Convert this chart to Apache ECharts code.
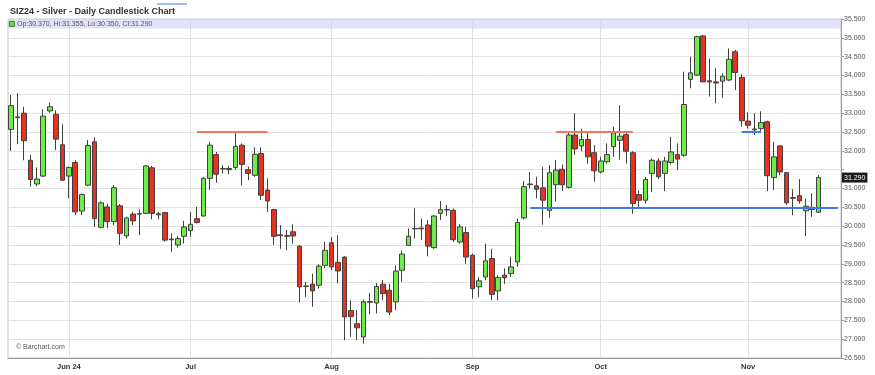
<!DOCTYPE html>
<html><head><meta charset="utf-8">
<script src="https://cdn.jsdelivr.net/npm/echarts/dist/echarts.min.js"></script>
<style>html,body{margin:0;padding:0;background:#fff}#c{width:875px;height:375px}</style>
</head><body><div id="c"></div>
<script>
// ---- data ----
const dates = [
 '2024-05-20','2024-05-21','2024-05-22','2024-05-23','2024-05-24','2024-05-28','2024-05-29','2024-05-30','2024-05-31',
 '2024-06-03','2024-06-04','2024-06-05','2024-06-06','2024-06-07','2024-06-10','2024-06-11','2024-06-12','2024-06-13','2024-06-14',
 '2024-06-17','2024-06-18','2024-06-20','2024-06-21','2024-06-24','2024-06-25','2024-06-26','2024-06-27','2024-06-28',
 '2024-07-01','2024-07-02','2024-07-03','2024-07-05','2024-07-08','2024-07-09','2024-07-10','2024-07-11','2024-07-12',
 '2024-07-15','2024-07-16','2024-07-17','2024-07-18','2024-07-19','2024-07-22','2024-07-23','2024-07-24','2024-07-25','2024-07-26',
 '2024-07-29','2024-07-30','2024-07-31',
 '2024-08-01','2024-08-02','2024-08-05','2024-08-06','2024-08-07','2024-08-08','2024-08-09','2024-08-12','2024-08-13','2024-08-14',
 '2024-08-15','2024-08-16','2024-08-19','2024-08-20','2024-08-21','2024-08-22','2024-08-23','2024-08-26','2024-08-27','2024-08-28',
 '2024-08-29','2024-08-30',
 '2024-09-03','2024-09-04','2024-09-05','2024-09-06','2024-09-09','2024-09-10','2024-09-11','2024-09-12','2024-09-13',
 '2024-09-16','2024-09-17','2024-09-18','2024-09-19','2024-09-20','2024-09-23','2024-09-24','2024-09-25','2024-09-26','2024-09-27','2024-09-30',
 '2024-10-01','2024-10-02','2024-10-03','2024-10-04','2024-10-07','2024-10-08','2024-10-09','2024-10-10','2024-10-11',
 '2024-10-14','2024-10-15','2024-10-16','2024-10-17','2024-10-18','2024-10-21','2024-10-22','2024-10-23','2024-10-24','2024-10-25',
 '2024-10-28','2024-10-29','2024-10-30','2024-10-31',
 '2024-11-01','2024-11-04','2024-11-05','2024-11-06','2024-11-07','2024-11-08','2024-11-11','2024-11-12','2024-11-13','2024-11-14','2024-11-15','2024-11-18'
];
const padDates = ['2024-11-19','2024-11-20','2024-11-21'];

const opens = [32.57,32.90,33.00,31.75,31.12,31.33,33.06,32.97,32.16,31.33,31.69,30.40,31.09,32.24,29.97,30.51,30.12,30.54,29.74,30.32,
 30.33,30.34,31.55,30.33,30.36,29.66,29.50,29.73,29.88,30.20,30.27,31.27,31.90,31.53,31.53,31.56,32.15,31.50,31.35,31.93,
 30.96,30.44,29.77,29.75,29.85,29.47,28.41,28.46,28.43,28.96,29.56,29.04,29.18,27.76,27.41,27.06,27.98,27.96,28.46,28.30,
 27.99,28.83,29.49,29.93,29.93,30.03,29.43,30.34,30.44,30.42,29.58,29.83,29.23,28.39,28.65,29.14,28.28,28.70,28.74,29.05,
 30.22,31.10,31.07,31.02,30.42,31.10,31.51,31.03,32.42,32.13,32.30,31.95,31.44,31.71,32.11,32.28,32.43,31.95,30.84,30.69,
 31.40,31.73,31.40,31.69,31.90,31.88,33.90,34.01,35.05,33.86,33.83,33.85,33.88,34.63,33.95,32.79,32.58,32.59,32.77,31.29,
 32.13,31.42,30.76,30.81,30.41,30.50,30.37];
const highs = [33.48,33.53,33.17,31.89,31.56,33.10,33.28,33.08,32.70,31.58,31.75,30.87,32.29,32.36,30.66,30.60,31.09,30.59,30.25,30.38,
 30.45,31.62,31.60,30.38,30.38,29.81,29.73,30.14,30.38,30.51,31.31,32.24,31.97,31.62,31.60,32.50,32.20,31.58,32.09,32.09,
 31.27,30.44,30.03,29.90,30.05,29.50,28.52,28.74,28.99,29.58,29.71,29.76,29.20,28.03,27.77,28.05,28.23,28.49,28.57,28.47,
 28.96,29.36,29.94,30.47,30.20,30.16,30.29,30.67,30.56,30.47,30.05,29.98,29.27,28.65,29.54,29.40,28.70,28.88,29.19,30.20,
 31.20,31.44,31.31,31.57,31.62,31.75,31.64,32.50,33.00,32.59,32.50,32.15,31.84,32.20,32.64,33.21,32.50,31.99,30.95,31.31,
 31.80,31.80,31.84,32.37,32.20,34.10,34.50,35.06,35.08,34.45,34.19,34.06,34.72,34.68,34.03,33.02,33.00,33.05,32.80,32.24,
 32.15,31.44,30.98,31.25,30.73,30.87,31.355];
const lows = [32.00,32.18,31.75,31.05,31.06,31.31,33.01,32.02,31.20,30.74,30.29,30.29,31.06,29.98,29.94,29.94,30.03,29.50,29.67,30.03,
 29.76,30.32,30.18,30.18,29.59,29.32,29.43,29.54,29.72,30.07,30.25,30.96,31.15,31.40,31.38,31.50,31.09,31.22,31.31,30.69,
 30.38,29.50,29.40,29.36,29.54,27.97,28.12,27.86,28.34,28.88,28.83,28.48,26.97,27.06,26.97,26.88,27.66,27.68,28.03,27.64,
 27.77,28.52,29.47,29.67,29.63,29.20,29.40,30.16,30.27,29.58,29.54,29.00,28.08,28.12,28.56,28.03,28.03,28.47,28.65,28.92,
 30.18,31.00,30.74,30.04,30.22,30.65,30.93,31.00,31.89,31.99,31.66,31.18,31.40,31.66,31.84,31.77,31.66,30.33,30.47,30.60,
 30.91,31.25,30.93,31.64,31.49,31.84,33.66,33.99,33.82,33.44,33.26,33.41,33.85,33.61,32.64,32.59,32.42,32.49,30.93,30.96,
 31.35,30.56,30.29,30.60,29.74,30.25,30.35];
const closes = [33.20,32.88,32.27,31.24,31.25,32.92,33.17,32.31,31.22,31.56,30.38,30.84,32.14,30.20,30.62,30.12,31.02,29.81,30.22,30.14,
 30.32,31.60,30.34,30.30,29.63,29.64,29.67,29.98,30.05,30.10,31.27,32.15,31.38,31.52,31.50,32.12,31.64,31.40,31.91,30.82,
 30.67,29.73,29.75,29.73,29.74,28.39,28.40,28.28,28.94,29.36,28.92,28.81,27.59,27.60,27.30,27.99,28.00,28.40,28.21,27.72,
 28.81,29.26,29.73,29.94,29.95,29.47,30.27,30.44,30.43,29.64,29.98,29.18,28.34,28.55,29.08,28.19,28.64,28.63,28.92,30.10,
 31.05,31.12,30.98,30.69,31.42,31.49,31.10,32.42,32.05,32.30,31.84,31.47,31.73,31.90,32.48,32.39,31.99,30.60,30.69,31.24,
 31.75,31.31,31.73,31.97,31.78,33.23,34.07,35.03,33.83,33.83,33.80,33.98,34.43,34.08,32.80,32.68,32.56,32.75,31.34,31.84,
 31.44,30.62,30.74,30.67,30.53,30.44,31.29];

const tickDates = ['2024-06-03','2024-07-01','2024-08-01','2024-09-03','2024-10-01','2024-11-01'];
const tickLabels = ['Jun 24','Jul','Aug','Sep','Oct','Nov'];

// level lines: [fromIndex, toIndex, price]
const resistanceLines = [[29, 40, 32.5], [85, 97, 32.5]];
const supportLines = [[114, 117, 32.5], [81, 129, 30.5]];
const hiddenAxisValue = 31.5;

// ---- chart ----
const axisCats = dates.concat(padDates);
const ohlc = dates.map((d, i) => [opens[i], closes[i], lows[i], highs[i]]);
const isTick = (i, v) => tickDates.indexOf(v) >= 0;
const n = dates.length - 1;
const fmt = v => v.toFixed(3);
const FONT = 'Liberation Sans, Arial, sans-serif';

const lineData = [];
resistanceLines.forEach(l => lineData.push([{coord:[l[0], l[2]], lineStyle:{color:'#f4775a', width:2, type:'solid'}}, {coord:[l[1], l[2]]}]));
supportLines.forEach(l => lineData.push([{coord:[l[0], l[2]], lineStyle:{color:'#3d7be8', width:2, type:'solid'}}, {coord:[l[1], l[2]]}]));
lineData.push({yAxis: closes[n], lineStyle:{color:'rgba(0,0,0,0)', width:0}, label:{show:true, position:'end', distance:1,
  formatter: () => fmt(closes[n]), backgroundColor:'#1a1a1a', color:'#fff', fontSize:7, fontFamily:FONT, padding:[2,2,1,2]}});

const chart = echarts.init(document.getElementById('c'));
chart.setOption({
  animation: false,
  backgroundColor: '#fff',
  title: {text: 'SIZ24 - Silver - Daily Candlestick Chart', left: 5, top: 2,
    textStyle: {fontSize: 9, fontWeight: 'bold', color: '#333', fontFamily: FONT}},
  grid: {left: 8, right: 34, top: 19, bottom: 17, show: true, borderColor: '#c8c8c8', borderWidth: 1},
  xAxis: {type: 'category', data: axisCats, boundaryGap: true,
    axisLine: {lineStyle: {color: '#9a9a9a'}},
    axisTick: {alignWithLabel: true, interval: isTick, length: 3, lineStyle: {color: '#9a9a9a'}},
    axisLabel: {interval: isTick, formatter: v => tickLabels[tickDates.indexOf(v)], fontSize: 7.5, fontWeight: 'bold',
      color: '#333', margin: 5, fontFamily: FONT},
    splitLine: {show: true, interval: isTick, alignWithLabel: true, lineStyle: {color: '#e2e2e2'}}
  },
  yAxis: {type: 'value', position: 'right', min: 26.5, max: 35.5, interval: 0.5,
    axisLine: {show: true, lineStyle: {color: '#9a9a9a'}},
    axisTick: {show: true, length: 3, lineStyle: {color: '#9a9a9a'}},
    axisLabel: {fontSize: 7, color: '#555', margin: 3, fontFamily: FONT,
      formatter: v => Math.abs(v - hiddenAxisValue) < 1e-6 ? '' : fmt(v)},
    splitLine: {lineStyle: {color: '#e2e2e2'}}
  },
  graphic: [
    {type: 'rect', left: 9, top: 21, shape: {width: 5, height: 5}, style: {fill: '#5fe03a', stroke: '#2a6a1a', lineWidth: 0.8}, z: 100},
    {type: 'text', left: 17, top: 20.5, style: {text: 'Op:' + fmt(opens[n]) + ', Hi:' + fmt(highs[n]) + ', Lo:' + fmt(lows[n]) + ', Cl:' + fmt(closes[n]),
      fill: '#555', font: '7px ' + FONT}, z: 100},
    {type: 'text', left: 16, top: 344, style: {text: '\u00a9 Barchart.com', fill: '#555', font: '7px ' + FONT}, z: 100},
    {type: 'line', shape: {x1: 157, y1: 4, x2: 187, y2: 4}, style: {stroke: '#3d7be8', lineWidth: 1}, z: 100}
  ],
  series: [{
    type: 'candlestick', data: ohlc, barWidth: 5.2,
    itemStyle: {color: '#6cec45', color0: '#e8321e', borderColor: '#404040', borderColor0: '#404040', borderWidth: 1},
    markArea: {silent: true, itemStyle: {color: 'rgba(205,205,245,0.6)'}, data: [[{yAxis: 35.25}, {yAxis: 35.5}]]},
    markLine: {silent: true, symbol: ['none', 'none'], label: {show: false}, data: lineData}
  }]
});
</script></body></html>
